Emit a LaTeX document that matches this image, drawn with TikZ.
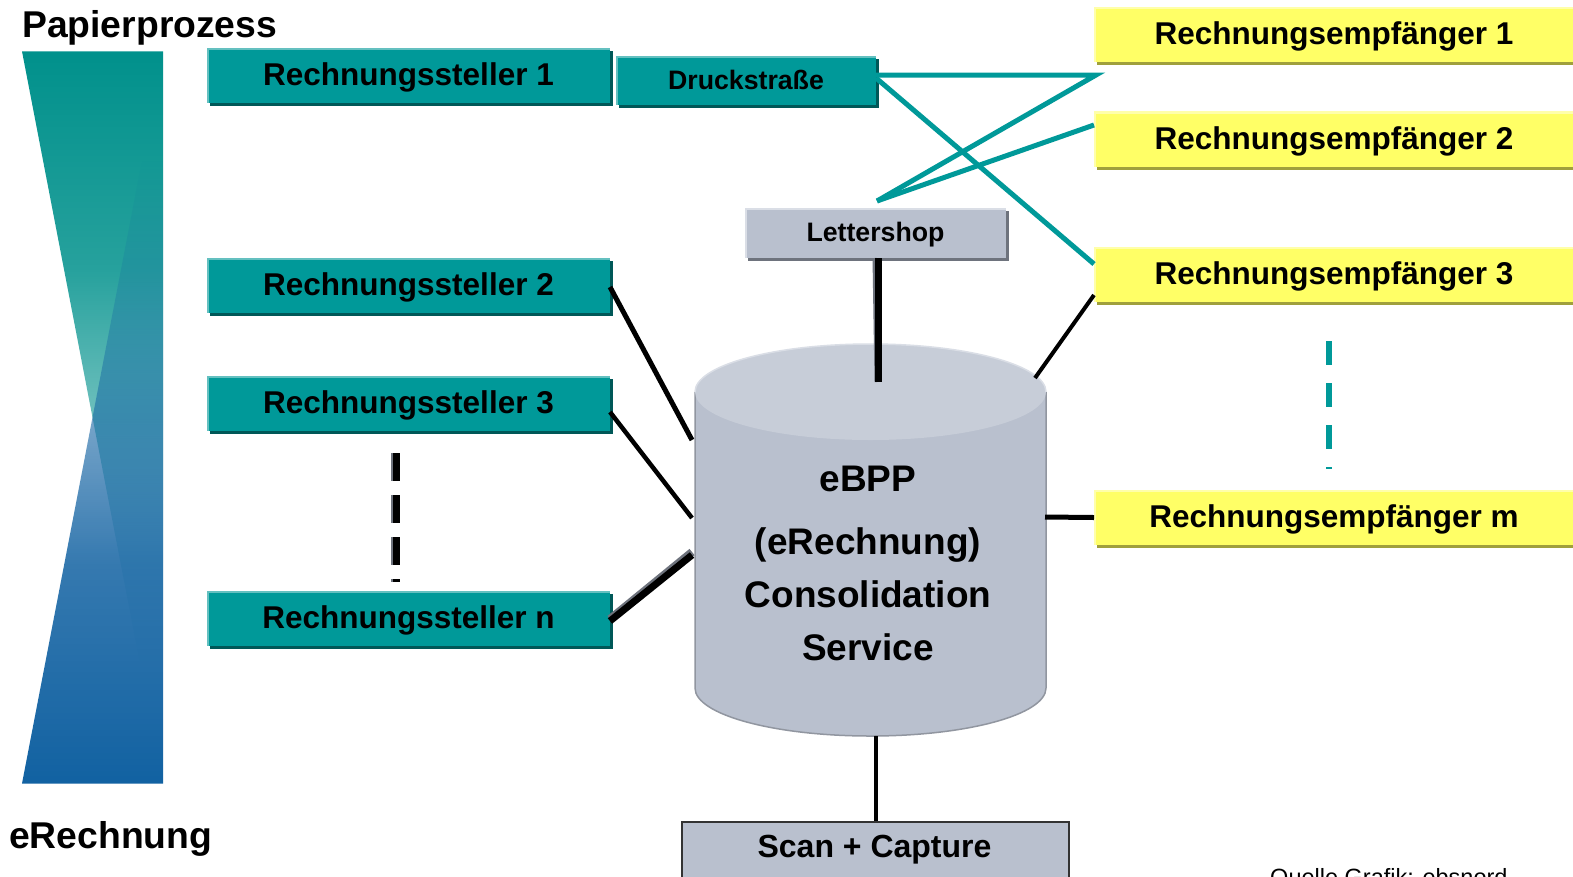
\documentclass[tikz,border=0pt]{standalone}
\usepackage{fontspec}
\setmainfont{Liberation Sans}
\usetikzlibrary{fadings,calc}
\pgfdeclareverticalshading{tealfadesh}{100bp}{color(0bp)=(pgftransparent!100); color(32.5bp)=(pgftransparent!100); color(40bp)=(pgftransparent!80); color(50bp)=(pgftransparent!43); color(60bp)=(pgftransparent!15); color(75bp)=(pgftransparent!0); color(100bp)=(pgftransparent!0)}
\pgfdeclarefading{tealfade}{\pgfuseshading{tealfadesh}}
\pgfdeclareverticalshading{bluefadesh}{100bp}{color(0bp)=(pgftransparent!0); color(25bp)=(pgftransparent!0); color(40bp)=(pgftransparent!15); color(50bp)=(pgftransparent!43); color(60bp)=(pgftransparent!80); color(67.5bp)=(pgftransparent!100); color(100bp)=(pgftransparent!100)}
\pgfdeclarefading{bluefade}{\pgfuseshading{bluefadesh}}
\definecolor{tealc}{RGB}{0,153,153}
\definecolor{tealg}{RGB}{0,145,140}
\definecolor{tealdk}{RGB}{0,88,88}
\definecolor{teallt}{RGB}{100,192,192}
\definecolor{bluec}{RGB}{18,98,162}
\definecolor{grayc}{RGB}{185,192,206}
\definecolor{graydk}{RGB}{110,115,125}
\definecolor{graylt}{RGB}{218,222,230}
\definecolor{cyltopc}{RGB}{199,205,216}
\definecolor{cyledge}{RGB}{145,150,160}
\definecolor{yelc}{RGB}{255,255,102}
\definecolor{yeldk}{RGB}{160,160,60}
\definecolor{yellt}{RGB}{255,255,170}
\begin{document}
\begin{tikzpicture}[x=1pt,y=-1pt,
  bigfont/.style={font=\bfseries\fontsize{31.5}{37}\selectfont},
  midfont/.style={font=\bfseries\fontsize{26.7}{32}\selectfont},
  lightedge/.style={path picture={\draw[#1,line width=4pt] (path picture bounding box.south west) -- (path picture bounding box.north west) -- (path picture bounding box.north east);}},
  rsbox/.style={bigfont, inner sep=0pt, outer sep=0pt, fill=tealc, minimum width=403pt, minimum height=55pt,
    text height=24pt, text depth=4pt,
    preaction={fill=tealdk, transform canvas={shift={(3pt,-3pt)}}}, lightedge=teallt},
  drbox/.style={midfont, inner sep=0pt, outer sep=0pt, fill=tealc, minimum width=260pt, minimum height=49pt,
    text height=21pt, text depth=4pt,
    preaction={fill=tealdk, transform canvas={shift={(3pt,-3pt)}}}, lightedge=teallt},
  lsbox/.style={midfont, inner sep=0pt, outer sep=0pt, fill=grayc, minimum width=261pt, minimum height=50pt,
    text height=21pt, text depth=4pt,
    preaction={fill=graydk, transform canvas={shift={(3pt,-3pt)}}}, lightedge=graylt},
  rebox/.style={bigfont, inner sep=0pt, outer sep=0pt, fill=yelc, minimum width=480pt, minimum height=55pt,
    text height=24pt, text depth=4pt,
    preaction={fill=yeldk, transform canvas={shift={(3pt,-3pt)}}}, lightedge=yellt},
  cyltxt/.style={font=\bfseries\fontsize{37}{44}\selectfont, anchor=base, inner sep=0pt},
  title/.style={font=\bfseries\fontsize{37.3}{44}\selectfont, anchor=base west, inner sep=0pt},
  conn/.style={black, line width=5pt},
  tline/.style={tealc, line width=5pt},
]
\useasboundingbox (0,0) rectangle (1573,876);
\fill[white] (0,0) rectangle (1573,876);

% left gradient bow-tie
\fill[tealg, path fading=tealfade] (22,50) -- (163,50) -- (163,783) -- cycle;
\fill[bluec, path fading=bluefade] (22,783) -- (163,783) -- (163,50) -- cycle;

\node[title] (pp) at (22,37) {Papierprozess};
\node[title] (er) at (9,848) {eRechnung};

% named connector points
\coordinate (p1) at (1096,75);
\coordinate (lstop) at (877,201);
\coordinate (c2) at (692,440);
\coordinate (c3) at (692,518);
\coordinate (cn) at (692,555);
\coordinate (ctop) at (878,382);
\coordinate (cbot) at (875.5,736);
\coordinate (cr3) at (1035,378);
\coordinate (crm) at (1045,517);
\coordinate (d1a) at (396,453);
\coordinate (d1b) at (396,582);
\coordinate (d2a) at (1329,341);
\coordinate (d2b) at (1329,469);

% cylinder
\fill[grayc] (695,392) -- (695,688) arc[start angle=180, end angle=0, x radius=175.5, y radius=48] -- (1046,392) -- cycle;
\draw[cyledge, line width=1.5pt] (695,392) -- (695,688) arc[start angle=180, end angle=0, x radius=175.5, y radius=48] -- (1046,392);
\fill[cyltopc] (870.5,392) ellipse [x radius=175.5, y radius=48];
\draw[graylt, line width=1.5pt] (695,392) arc[start angle=180, end angle=360, x radius=175.5, y radius=48];

\node[cyltxt] (t1) at (868,491) {eBPP};
\node[cyltxt] (t2) at (868,554) {(eRechnung)};
\node[cyltxt] (t3) at (868,607) {Consolidation};
\node[cyltxt] (t4) at (868,660) {Service};

% boxes
\node[rsbox] (rs1) at (408.5,75.5) {Rechnungssteller 1};
\node[rsbox] (rs2) at (408.5,285.5) {Rechnungssteller 2};
\node[rsbox] (rs3) at (408.5,403.5) {Rechnungssteller 3};
\node[rsbox] (rsn) at (408.5,618.5) {Rechnungssteller n};
\node[drbox] (dr) at (746,80.5) {Druckstraße};
\node[lsbox] (ls) at (875.5,233) {Lettershop};
\node[rebox] (re1) at (1334,34.5) {Rechnungsempfänger 1};
\node[rebox] (re2) at (1334,139) {Rechnungsempfänger 2};
\node[rebox] (re3) at (1334,274.5) {Rechnungsempfänger 3};
\node[rebox] (rem) at (1334,517.5) {Rechnungsempfänger m};
\node[draw=black!80, line width=2pt, fill=grayc, minimum width=387pt, minimum height=90pt, inner sep=0pt, anchor=north] (scanbox) at (875.5,821) {};
\node[font=\bfseries\fontsize{32}{38}\selectfont, anchor=base, inner sep=0pt] (scan) at (874.5,857) {Scan + Capture};

% teal connectors
\draw[tline] ([yshift=5.5pt]dr.east) -- (p1) -- (lstop);
\draw[tline] (lstop) -- ([yshift=14pt]re2.west);
\draw[tline] ([yshift=2.5pt]dr.east) -- ([yshift=10.5pt]re3.west);

% black connectors
\draw[conn] ([yshift=-1.5pt]rs2.east) -- (c2);
\draw[conn, line width=4.5pt] ([yshift=-8.5pt]rs3.east) -- (c3);
\draw[graydk, line width=8pt] ([yshift=-0.5pt]rsn.east) -- ([yshift=3pt]cn);
\draw[black, line width=7pt] ([yshift=-2.5pt]rsn.east) -- (cn);
\draw[graydk, line width=4pt] ([xshift=-1pt]ls.south) -- ([xshift=-1.5pt]ctop);
\draw[black, line width=7pt] ([xshift=2.5pt]ls.south) -- (ctop);
\draw[conn, line width=4pt] (cbot) -- (scanbox.north);
\draw[conn, line width=4pt] (cr3) -- ([yshift=-20.5pt]re3.west);
\draw[conn] (crm) -- (rem.west);

% dashed continuation marks
\draw[graydk, line width=7pt, dash pattern=on 28pt off 14pt] ([xshift=-2pt]d1a) -- ([xshift=-2pt]d1b);
\draw[black, line width=7pt, dash pattern=on 28pt off 14pt] (d1a) -- (d1b);
\draw[tealc, line width=6pt, dash pattern=on 24pt off 18pt] (d2a) -- (d2b);

\node[font=\fontsize{23.5}{28}\selectfont, anchor=base west, inner sep=0pt] (src) at (1270,885) {Quelle Grafik: ebsnord};
\end{tikzpicture}
\end{document}
